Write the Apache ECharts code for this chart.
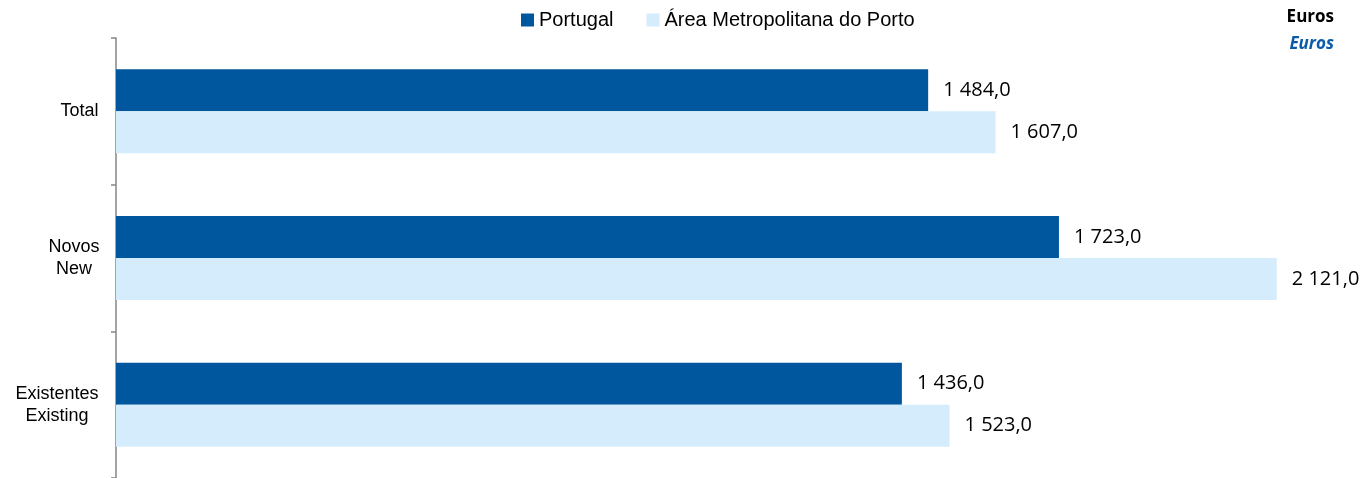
<!DOCTYPE html>
<html>
<head>
<meta charset="utf-8">
<script src="https://cdn.jsdelivr.net/npm/echarts@6/dist/echarts.min.js"></script>
<style>
  html, body { margin: 0; padding: 0; background: #fff; }
  #chart { width: 1366px; height: 478px; }
</style>
</head>
<body>
<div id="chart"></div>
<script>
var categories = ["Total", "Novos\nNew", "Existentes\nExisting"];
var seriesNames = ["Portugal", "Área Metropolitana do Porto"];
var portugal = [1484.0, 1723.0, 1436.0];
var amp = [1607.0, 2121.0, 1523.0];
var unitLabels = ["Euros", "Euros"];

// "1 484,0" style: space for thousands, comma for decimals
function fmt(v) {
    var parts = v.toFixed(1).split(".");
    return parts[0].replace(/\B(?=(\d{3})+(?!\d))/g, " ") + "," + parts[1];
}

// each category label is a block of centred lines, the block right aligned
var labelWidths = [41, 52, 86];

var chart = echarts.init(document.getElementById("chart"));
var option = {
    animation: false,
    textStyle: { fontFamily: "Liberation Sans, Arial, sans-serif" },
    legend: {
        left: 521,
        top: 10,
        padding: 0,
        itemWidth: 13,
        itemHeight: 13,
        itemGap: 33,
        icon: "rect",
        textStyle: { fontSize: 20, color: "#000", fontFamily: "Liberation Sans, Arial, sans-serif" },
        data: seriesNames
    },
    grid: { left: 116, right: 46, top: 38, bottom: 0, containLabel: false },
    xAxis: { type: "value", min: 0, max: 2200, show: false },
    yAxis: {
        type: "category",
        inverse: true,
        data: categories,
        axisLine: { show: true, lineStyle: { color: "#868686", width: 1.5 } },
        axisTick: { show: true, length: 5, lineStyle: { color: "#868686", width: 1.5 } },
        axisLabel: {
            margin: 16,
            align: "right",
            formatter: function (value, idx) {
                return value.split("\n").map(function (s) {
                    return "{c" + idx + "|" + s + "}";
                }).join("\n");
            },
            rich: {
                c0: { width: labelWidths[0], align: "center", fontSize: 18, lineHeight: 22, color: "#000" },
                c1: { width: labelWidths[1], align: "center", fontSize: 18, lineHeight: 22, color: "#000" },
                c2: { width: labelWidths[2], align: "center", fontSize: 18, lineHeight: 22, color: "#000" }
            }
        }
    },
    series: [
        {
            name: seriesNames[0],
            type: "bar",
            data: portugal,
            barWidth: 42,
            barGap: "0%",
            itemStyle: { color: "#00579D" },
            label: {
                show: true, position: "right", distance: 15,
                formatter: function (p) { return fmt(p.value); },
                fontFamily: "Open Sans", fontSize: 20, color: "#000"
            }
        },
        {
            name: seriesNames[1],
            type: "bar",
            data: amp,
            barWidth: 42,
            barGap: "0%",
            itemStyle: { color: "#D5ECFC" },
            label: {
                show: true, position: "right", distance: 15,
                formatter: function (p) { return fmt(p.value); },
                fontFamily: "Open Sans", fontSize: 20, color: "#000"
            }
        }
    ],
    graphic: [
        {
            type: "text", right: 32, top: 9,
            style: { text: unitLabels[0], fontFamily: "Open Sans", fontWeight: "bold", fontSize: 17, fill: "#000" }
        },
        {
            type: "text", right: 32, top: 36,
            style: { text: unitLabels[1], fontFamily: "Open Sans", fontWeight: "bold", fontStyle: "italic", fontSize: 17, fill: "#0B5CA8" }
        }
    ]
};
chart.setOption(option);
</script>
</body>
</html>
